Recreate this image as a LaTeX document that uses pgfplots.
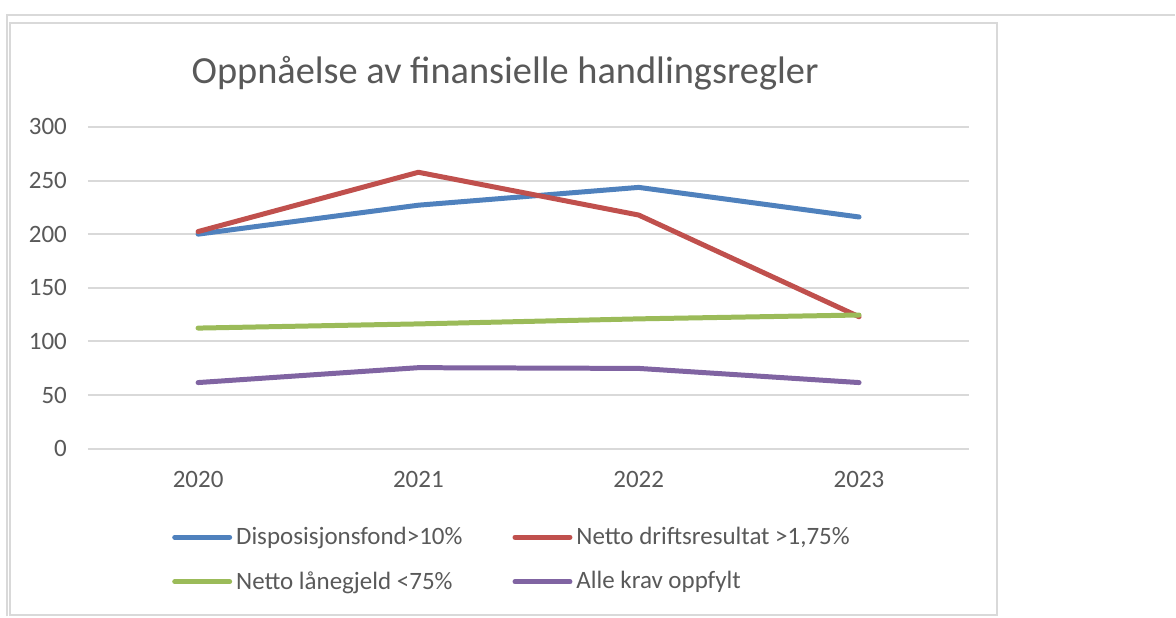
\documentclass[border=0pt]{standalone}
\usepackage{fontspec}
\setmainfont{Carlito}
\usepackage{pgfplots}
\pgfplotsset{compat=1.18}
\definecolor{gridc}{HTML}{D9D9D9}
\definecolor{txt}{HTML}{595959}
\definecolor{sblue}{HTML}{4F81BD}
\definecolor{sred}{HTML}{C0504D}
\definecolor{sgreen}{HTML}{9BBB59}
\definecolor{spurple}{HTML}{8064A2}
\begin{document}
\begin{tikzpicture}
% canvas 1176x617 px at 0.5pt per px
\fill[white] (0pt,0pt) rectangle (588pt,-308.5pt);
\draw[gridc, line width=1pt] (3.5pt,-308.5pt) -- (3.5pt,-7.5pt) -- (588pt,-7.5pt);
\draw[gridc, line width=1pt] (5pt,-11.5pt) rectangle (499pt,-308pt);
\node[text=txt, font=\fontsize{19.2}{23}\selectfont] at (252.75pt,-36.5pt)
  {Oppnåelse av finansielle handlingsregler};
\begin{axis}[
  at={(44pt,-224.5pt)}, anchor=south west,
  scale only axis, width=441pt, height=161pt,
  xmin=-0.5, xmax=3.5, ymin=0, ymax=300,
  ytick={0,50,...,300},
  xtick={0,1,2,3}, xticklabels={2020,2021,2022,2023},
  axis line style={draw=none}, tick style={draw=none},
  ymajorgrids, grid style={gridc, line width=1pt},
  ticklabel style={text=txt, font=\fontsize{12.5}{15}\selectfont},
  /pgf/number format/assume math mode=true,
  yticklabel style={xshift=-7pt},
  xticklabel style={yshift=-8pt},
  clip=false,
  legend columns=2,
  legend cell align=left,
  legend style={at={(0.0952,-0.23)}, anchor=north west, draw=none, fill=none,
    inner sep=0pt, text=txt, font=\fontsize{12.5}{15}\selectfont,
    row sep=8pt,
    /tikz/every even column/.append style={column sep=23pt}},
  legend image code/.code={\draw[#1, line width=2.5pt] (0pt,0pt) -- (27.5pt,0pt);},
  every axis plot/.append style={line width=2.5pt, line join=round, line cap=round, mark=none},
]
\addplot[sblue] coordinates {(0,200) (1,227) (2,243.6) (3,216)};
\addlegendentry{Disposisjonsfond>10\%}
\addplot[sred] coordinates {(0,202.4) (1,257.7) (2,217.8) (3,123)};
\addlegendentry{Netto driftsresultat >1,75\%}
\addplot[sgreen] coordinates {(0,112.4) (1,116.3) (2,121) (3,124.6)};
\addlegendentry{Netto lånegjeld <75\%}
\addplot[spurple] coordinates {(0,61.6) (1,75.5) (2,74.8) (3,61.6)};
\addlegendentry{Alle krav oppfylt}
\end{axis}
\end{tikzpicture}
\end{document}
